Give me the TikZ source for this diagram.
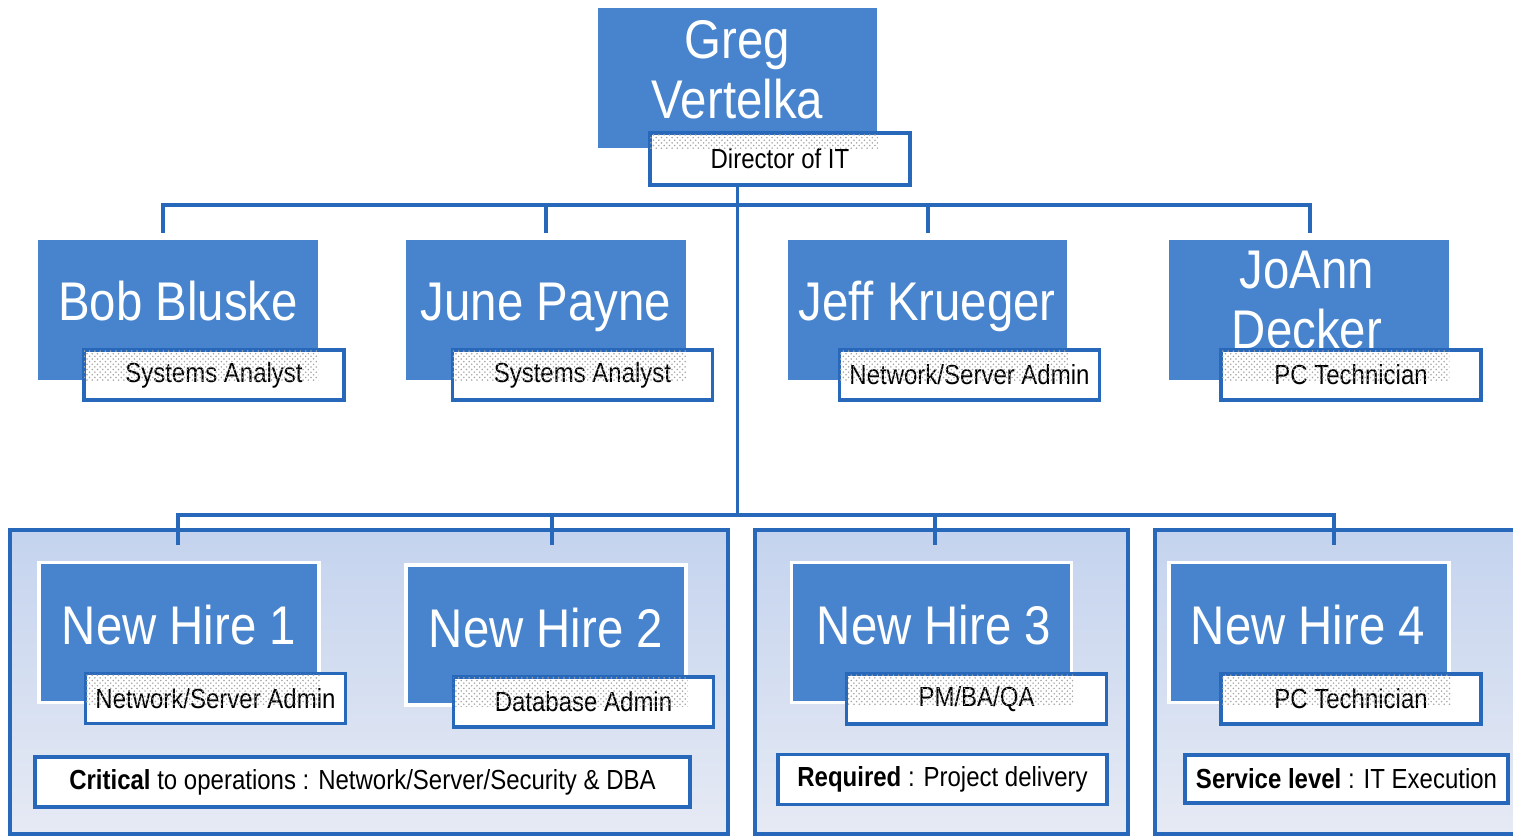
\documentclass[tikz,border=0pt]{standalone}
\usepackage{fontspec}
\setmainfont[FakeStretch=0.87]{Liberation Sans}
\usetikzlibrary{patterns}
\definecolor{boxblue}{RGB}{72,132,206}
\definecolor{lineblue}{RGB}{40,104,186}
\definecolor{grouptop}{RGB}{196,211,238}
\definecolor{groupbot}{RGB}{230,234,244}
\newcommand{\namesize}{\fontsize{31}{34}\selectfont}
\newcommand{\rolesize}{\fontsize{15.7}{18}\selectfont}
\tikzset{
	namebox/.style={fill=boxblue, minimum width=5.6cm, minimum height=2.8cm, inner sep=0pt},
	hirebox/.style={namebox, draw=white, line width=2pt},
	nametext/.style={text=white, font=\namesize, align=center, anchor=base, inner sep=0pt},
	rolebox/.style={draw=lineblue, line width=1.8pt, fill=white, minimum width=5.2cm, minimum height=1cm, font=\rolesize, inner sep=0pt},
	notebox/.style={rolebox, line width=2pt},
	groupbox/.style={draw=lineblue, line width=2.3pt, top color=grouptop, bottom color=groupbot, minimum height=6.08cm, inner sep=0pt},
	link/.style={draw=lineblue, line width=2pt},
}
\begin{document}
\begin{tikzpicture}[x=0.02cm, y=-0.02cm]
			\clip (0,0) rectangle (1513,836);
			\fill[white] (0,0) rectangle (1513,836);
			% groups of new hires
			\node[groupbox, minimum width=14.36cm] (g1) at (369,682) {};
			\node[groupbox, minimum width=7.46cm] (g2) at (941.5,682) {};
			\node[groupbox, minimum width=7.7cm] (g3) at (1347.5,682) {};
			% director
			\node[namebox] (greg) at (737.5,78) {};
			\node[nametext] (greg-name) at (737.5,118) {Greg\\Vertelka};
			\node[rolebox, minimum height=1.04cm] (greg-role) at (780,159) {Director of IT};
			% staff
			\node[namebox] (bob) at (178,310) {};
			\node[nametext] (bob-name) at (178,320) {Bob Bluske};
			\node[rolebox] (bob-role) at (214,375) {Systems Analyst};
			\node[namebox] (june) at (546,310) {};
			\node[nametext] (june-name) at (546,320) {June Payne};
			\node[rolebox] (june-role) at (582.5,375) {Systems Analyst};
			\node[namebox] (jeff) at (927.5,310) {};
			\node[nametext] (jeff-name) at (927,320) {Jeff Krueger};
			\node[rolebox] (jeff-role) at (969.5,375) {Network/Server Admin};
			\node[namebox] (joann) at (1309,310) {};
			\node[nametext] (joann-name) at (1307,348) {JoAnn\\Decker};
			\node[rolebox] (joann-role) at (1351,375) {PC Technician};
			% new hires
			\node[hirebox] (nh1) at (179,632.5) {};
			\node[nametext] (nh1-name) at (179,644) {New Hire 1};
			\node[rolebox] (nh1-role) at (215.5,698.5) {Network/Server Admin};
			\node[hirebox] (nh2) at (546,635) {};
			\node[nametext] (nh2-name) at (546,647) {New Hire 2};
			\node[rolebox] (nh2-role) at (583.5,702) {Database Admin};
			\node[hirebox] (nh3) at (931.5,632.5) {};
			\node[nametext] (nh3-name) at (934,644) {New Hire 3};
			\node[rolebox] (nh3-role) at (976.5,699) {PM/BA/QA};
			\node[hirebox] (nh4) at (1309,632.5) {};
			\node[nametext] (nh4-name) at (1308,644) {New Hire 4};
			\node[rolebox] (nh4-role) at (1351,699) {PC Technician};
			% shaded overlap of name box and title box
			\foreach \n in {greg,bob,june,jeff,joann,nh1,nh2,nh3,nh4}{
				\begin{scope}
				\clip ([shift={(1pt,-1pt)}]\n-role.north west) rectangle ([shift={(-1pt,1pt)}]\n-role.south east);
				\fill[pattern=crosshatch dots, pattern color=black!35] (\n.north west) rectangle (\n.south east);
				\end{scope}
			}
			% notes
			\node[notebox, minimum width=13.1cm] (note1) at (362.5,782) {\textbf{Critical} to operations : Network/Server/Security \& DBA};
			\node[notebox, minimum width=6.58cm] (note2) at (942.5,779.5) {\textbf{Required} : Project delivery};
			\node[notebox, minimum width=6.46cm, minimum height=0.96cm] (note3) at (1346.5,779) {\textbf{Service level} : IT Execution};
			% reporting lines
			\coordinate (top bus) at (737.5,205);
			\coordinate (low bus) at (737.5,515);
			\coordinate (bob-in) at (163,233);
			\coordinate (june-in) at (546,233);
			\coordinate (jeff-in) at (928,233);
			\coordinate (joann-in) at (1310,233);
			\coordinate (nh1-in) at (178,545);
			\coordinate (nh2-in) at (552,545);
			\coordinate (nh3-in) at (935,545);
			\coordinate (nh4-in) at (1334,545);
			\draw[link] (greg-role.south -| greg.south) -- (low bus);
			\draw[link] (bob-in) |- (top bus) -| (joann-in);
			\draw[link] (june-in) -- (june-in |- top bus);
			\draw[link] (jeff-in) -- (jeff-in |- top bus);
			\draw[link] (nh1-in) |- (low bus) -| (nh4-in);
			\draw[link] (nh2-in) -- (nh2-in |- low bus);
			\draw[link] (nh3-in) -- (nh3-in |- low bus);
\end{tikzpicture}
\end{document}
